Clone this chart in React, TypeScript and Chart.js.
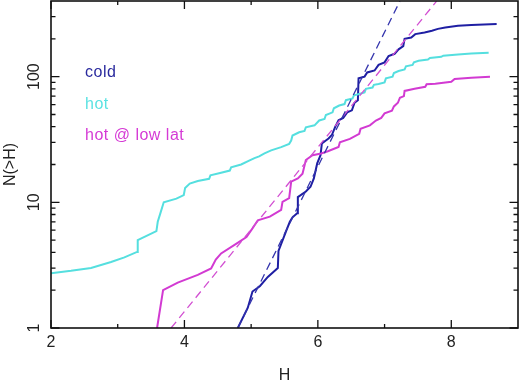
import { useEffect, useRef } from "react";
import { Chart, registerables } from "chart.js";

Chart.register(...registerables);

// ---- data ----
const COLD_H = [4.8, 4.95, 5.02, 5.13, 5.25, 5.4, 5.41, 5.53, 5.58, 5.62, 5.69, 5.7, 5.82, 5.89, 5.94, 5.99, 6.04, 6.06, 6.16, 6.21, 6.26, 6.31, 6.38, 6.44, 6.51, 6.55, 6.6, 6.61, 6.7, 6.74, 6.85, 6.91, 7.0, 7.06, 7.15, 7.21, 7.28, 7.3, 7.4, 7.46, 7.6, 7.71, 7.8, 7.91, 8.1, 8.3, 8.68];
const COLD_N = [1.0, 1.45, 1.95, 2.15, 2.55, 3.0, 4.1, 6.0, 7.0, 7.6, 8.2, 11.0, 12.2, 13.3, 15.5, 20.4, 23.7, 29.4, 32.2, 34.3, 39.9, 45, 47, 52, 54, 62, 65, 97, 100, 108, 112, 124, 130, 146, 152, 165, 175, 200, 205, 218, 225, 232, 240, 246, 254, 258, 262];

const HOT_H = [2.0, 2.3, 2.6, 2.9, 3.1, 3.29, 3.3, 3.58, 3.6, 3.64, 3.69, 3.88, 3.99, 4.01, 4.08, 4.2, 4.37, 4.39, 4.55, 4.68, 4.7, 4.85, 4.97, 5.05, 5.12, 5.2, 5.3, 5.45, 5.57, 5.6, 5.62, 5.72, 5.8, 5.82, 5.95, 6.02, 6.1, 6.12, 6.22, 6.24, 6.32, 6.4, 6.42, 6.52, 6.54, 6.62, 6.7, 6.72, 6.82, 6.84, 6.91, 7.0, 7.02, 7.12, 7.14, 7.21, 7.3, 7.32, 7.42, 7.44, 7.51, 7.65, 7.68, 7.85, 7.88, 8.1, 8.3, 8.56];
const HOT_N = [2.73, 2.85, 3.0, 3.35, 3.65, 4.03, 5.0, 5.9, 7.0, 8.2, 10.0, 10.7, 11.4, 13.0, 14.1, 14.8, 15.4, 16.4, 17.2, 17.9, 19.0, 20.0, 21.5, 22.5, 23.2, 24.5, 25.9, 27.5, 29.2, 31, 34, 36.1, 37, 39.5, 41, 44.8, 46, 49.5, 52, 56, 58.9, 60.5, 65, 67, 71, 72.9, 75, 80, 82, 86, 87.5, 90, 97, 100, 107, 111, 114, 121, 124, 130, 134, 137, 141, 144, 147, 150, 153, 155];

const LOWLAT_H = [3.59, 3.68, 3.9, 4.2, 4.4, 4.47, 4.55, 4.78, 4.93, 5.02, 5.1, 5.28, 5.45, 5.47, 5.57, 5.6, 5.7, 5.77, 5.82, 5.92, 6.05, 6.15, 6.31, 6.33, 6.48, 6.62, 6.64, 6.78, 6.87, 6.95, 7.0, 7.11, 7.14, 7.2, 7.23, 7.29, 7.3, 7.45, 7.61, 7.63, 7.76, 8.0, 8.05, 8.3, 8.58];
const LOWLAT_N = [1.0, 2.0, 2.3, 2.65, 2.98, 3.5, 3.92, 4.7, 5.3, 6.2, 7.2, 7.7, 8.7, 10.1, 10.8, 14.6, 15.5, 16.9, 21.7, 23.7, 24.5, 25.5, 27.6, 30, 32, 35.1, 38.5, 41, 44.8, 47, 51, 53.7, 58, 62, 68, 70, 77, 80, 83, 87, 88, 91, 96, 98, 100];

// power-law fits (dashed), endpoints
const COLD_FIT_H = [4.8, 7.23];
const COLD_FIT_N = [1, 399];
const LOWLAT_FIT_H = [3.8, 7.78];
const LOWLAT_FIT_N = [1, 399];

const LEGEND = ["cold", "hot", "hot @ low lat"];

const X_MAJOR = [2, 4, 6, 8];
const X_MINOR = [3, 5, 7];
const Y_MAJOR = [1, 10, 100];
const Y_MINOR = [2, 3, 4, 5, 6, 7, 8, 9, 20, 30, 40, 50, 60, 70, 80, 90, 200, 300];

const C_COLD = "#1f1fa3";
const C_HOT = "#55dfdf";
const C_LOW = "#d23ad2";
const C_COLD_TXT = "#2a2a9e";
const C_HOT_TXT = "#5ae2e2";
const C_LOW_TXT = "#d53ad5";

const pts = (xs: number[], ys: number[]) => xs.map((x, i) => ({ x, y: ys[i] }));

const FONT = '16px "Liberation Sans", Arial, sans-serif';

const framePlugin = {
  id: "frame",
  afterDraw(chart: any) {
    const { ctx, chartArea: a, scales } = chart;
    const xs = scales.x;
    const ys = scales.y;
    ctx.save();
    // border
    ctx.strokeStyle = "#111";
    ctx.lineWidth = 1.6;
    ctx.strokeRect(a.left, a.top, a.right - a.left, a.bottom - a.top);
    // x ticks (bottom & top, inward)
    ctx.lineWidth = 1.3;
    const xt = (v: number, len: number) => {
      const px = xs.getPixelForValue(v);
      ctx.beginPath();
      ctx.moveTo(px, a.bottom);
      ctx.lineTo(px, a.bottom - len);
      ctx.moveTo(px, a.top);
      ctx.lineTo(px, a.top + len);
      ctx.stroke();
    };
    X_MAJOR.forEach((v) => xt(v, 8));
    X_MINOR.forEach((v) => xt(v, 4));
    const yt = (v: number, len: number) => {
      const py = ys.getPixelForValue(v);
      ctx.beginPath();
      ctx.moveTo(a.left, py);
      ctx.lineTo(a.left + len, py);
      ctx.moveTo(a.right, py);
      ctx.lineTo(a.right - len, py);
      ctx.stroke();
    };
    Y_MAJOR.forEach((v) => yt(v, 8.5));
    Y_MINOR.forEach((v) => yt(v, 4.5));

    // tick labels
    ctx.fillStyle = "#222";
    ctx.font = FONT;
    ctx.textAlign = "center";
    ctx.textBaseline = "middle";
    X_MAJOR.forEach((v) => {
      ctx.fillText(String(v), xs.getPixelForValue(v), a.bottom + 15);
    });
    Y_MAJOR.forEach((v) => {
      const py = ys.getPixelForValue(v);
      ctx.save();
      ctx.translate(a.left - 16, py);
      ctx.rotate(-Math.PI / 2);
      ctx.fillText(String(v), 0, 0);
      ctx.restore();
    });
    // axis titles
    ctx.fillText("H", (a.left + a.right) / 2, a.bottom + 48);
    ctx.save();
    ctx.translate(11, (a.top + a.bottom) / 2);
    ctx.rotate(-Math.PI / 2);
    ctx.fillText("N(>H)", 0, 0);
    ctx.restore();

    // legend text
    ctx.textAlign = "left";
    ctx.textBaseline = "alphabetic";
    try {
      (ctx as any).letterSpacing = "0.5px";
    } catch (e) {}
    const cols = [C_COLD_TXT, C_HOT_TXT, C_LOW_TXT];
    const lx = a.left + 34;
    LEGEND.forEach((t, i) => {
      ctx.fillStyle = cols[i];
      ctx.fillText(t, lx, a.top + 76 + i * 31.5);
    });
    ctx.restore();
  },
};

export default function App() {
  const ref = useRef<HTMLCanvasElement | null>(null);
  useEffect(() => {
    if (!ref.current) return;
    const chart = new Chart(ref.current, {
      type: "line",
      data: {
        datasets: [
          {
            label: "cold fit",
            data: pts(COLD_FIT_H, COLD_FIT_N),
            borderColor: "#3535ad",
            borderWidth: 1.3,
            borderDash: [8, 5],
            pointRadius: 0,
          },
          {
            label: "hot @ low lat fit",
            data: pts(LOWLAT_FIT_H, LOWLAT_FIT_N),
            borderColor: "#d24fd2",
            borderWidth: 1.3,
            borderDash: [8, 5],
            pointRadius: 0,
          },
          {
            label: LEGEND[1],
            data: pts(HOT_H, HOT_N),
            borderColor: C_HOT,
            borderWidth: 2,
            pointRadius: 0,
          },
          {
            label: LEGEND[2],
            data: pts(LOWLAT_H, LOWLAT_N),
            borderColor: C_LOW,
            borderWidth: 2,
            pointRadius: 0,
          },
          {
            label: LEGEND[0],
            data: pts(COLD_H, COLD_N),
            borderColor: C_COLD,
            borderWidth: 2,
            pointRadius: 0,
          },
        ],
      },
      options: {
        responsive: false,
        animation: false,
        devicePixelRatio: 1,
        layout: { padding: { left: 51, right: 1, top: 1, bottom: 54 } },
        plugins: { legend: { display: false }, tooltip: { enabled: false } },
        elements: { line: { tension: 0 } },
        scales: {
          x: { type: "linear", min: 2, max: 9, display: false },
          y: { type: "logarithmic", min: 1, max: 400, display: false },
        },
      },
      plugins: [framePlugin],
    });
    return () => chart.destroy();
  }, []);
  return (
    <div style={{ position: "fixed", left: 0, top: 0, width: 519, height: 382, background: "#fff" }}>
      <canvas ref={ref} width={519} height={382} />
    </div>
  );
}
